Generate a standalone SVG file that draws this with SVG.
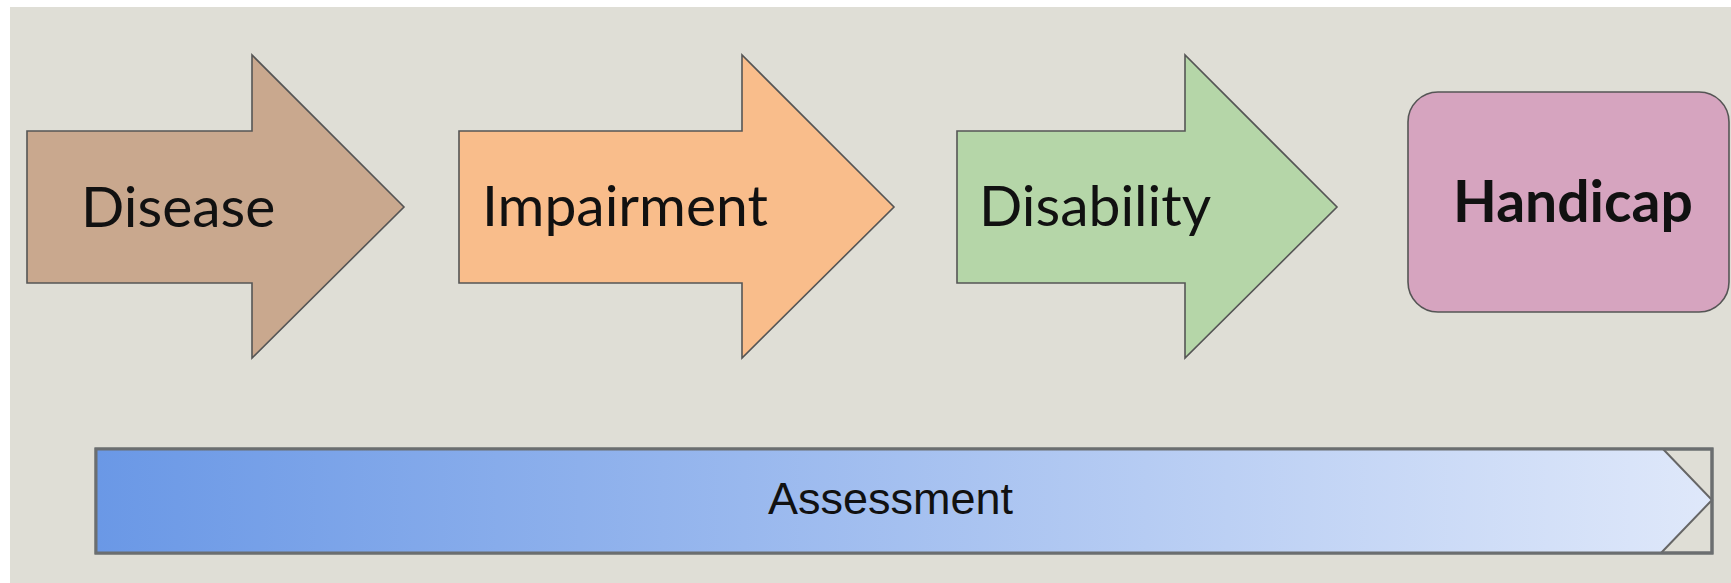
<svg xmlns="http://www.w3.org/2000/svg" width="1731" height="583" viewBox="0 0 1731 583">
  <style>
    .shape { stroke: #555555; stroke-width: 1.6; stroke-linejoin: miter; }
    .lbl { font-family: Lato, "Open Sans", sans-serif; font-size: 57px; fill: #111111; }
    .bold { font-weight: bold; }
    .bar { font-family: "Liberation Sans", Arial, sans-serif; font-size: 45px; fill: #111111; }
  </style>
  <defs>
    <linearGradient id="assessGrad" x1="0" y1="0" x2="1" y2="0">
      <stop offset="0" stop-color="#6a98e6"/>
      <stop offset="1" stop-color="#dfe8fa"/>
    </linearGradient>
  </defs>
  <rect x="0" y="0" width="1731" height="583" fill="#ffffff"/>
  <rect x="10" y="7" width="1721" height="576" fill="#dfded6"/>

  <g id="disease">
    <polygon class="shape" fill="#c9a88e" points="27,131 252,131 252,55 404,207 252,358 252,283 27,283"/>
    <text class="lbl" x="81" y="227">Disease</text>
  </g>
  <g id="impairment">
    <polygon class="shape" fill="#f9bd8b" points="459,131 742,131 742,55 894,207 742,358 742,283 459,283"/>
    <text class="lbl" x="482" y="226">Impairment</text>
  </g>
  <g id="disability">
    <polygon class="shape" fill="#b5d6a8" points="957,131 1185,131 1185,55 1337,207 1185,358 1185,283 957,283"/>
    <text class="lbl" x="979" y="226">Disability</text>
  </g>
  <g id="handicap">
    <rect class="shape" fill="#d6a4bf" x="1408" y="92" width="321" height="220" rx="30" ry="30"/>
    <text class="lbl bold" x="1453" y="222">Handicap</text>
  </g>

  <g id="assessment">
    <rect x="96" y="449" width="1616" height="104" fill="#dfded6" stroke="#6b6e70" stroke-width="3"/>
    <polygon fill="url(#assessGrad)" points="96,449 1663,449 1712,500 1661,553 96,553"/>
    <polyline fill="none" stroke="#666666" stroke-width="2" points="1663,449 1712,500 1661,553"/>
    <rect x="96" y="449" width="1616" height="104" fill="none" stroke="#6b6e70" stroke-width="3"/>
    <text class="bar" x="768" y="514">Assessment</text>
  </g>

  <g id="connectors"></g>
</svg>
